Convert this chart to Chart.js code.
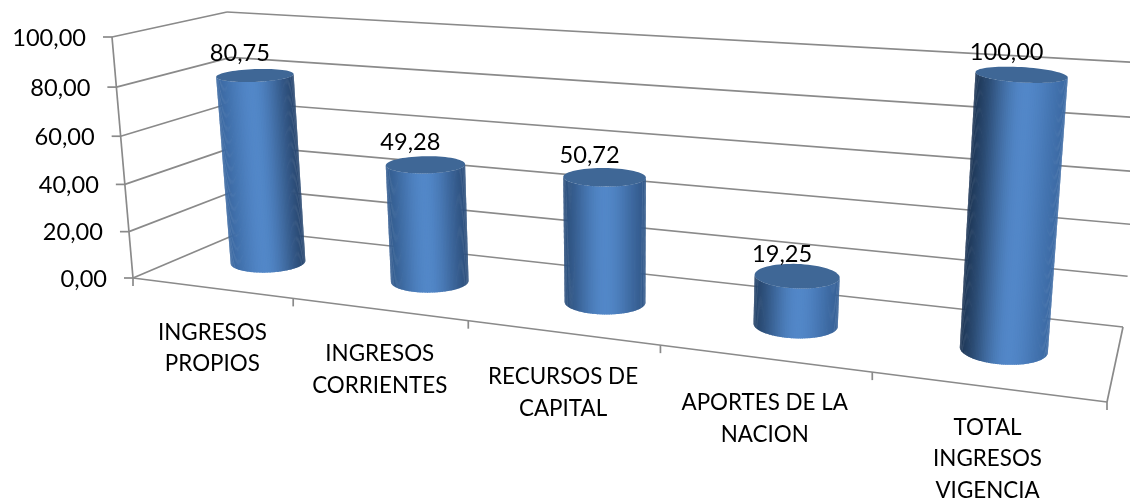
<!DOCTYPE html>
<html><head><meta charset="utf-8">
<style>html,body{margin:0;padding:0;background:#fff}canvas{display:block}</style>
<script src="https://cdn.jsdelivr.net/npm/chart.js@4"></script></head>
<body><canvas id="c" width="1130" height="503"></canvas>
<script>
const categories = [["INGRESOS","PROPIOS"],["INGRESOS","CORRIENTES"],["RECURSOS DE","CAPITAL"],["APORTES DE LA","NACION"],["TOTAL","INGRESOS","VIGENCIA"]];
const values = [80.75,49.28,50.72,19.25,100];
const yMin = 0, yMax = 100, yStep = 20;

const FONT = '22.4px Lato, "Open Sans", sans-serif';
const NUMFONT = '23.6px Lato, "Open Sans", sans-serif';
const GRID = '#8a8a8a';
const persp = (t,w)=> t/(t+w*(1-t));
const lerp = (a,b,t)=>a+(b-a)*t;
// projection of the (across, depth, height) box on the screen
function warp(u,d,v){
  const f=persp(u,1.27), g=persp(u,1.2), m=persp(u,1.25), h=persp(v,1.05);
  const fx=133+974*f, fy=278+124*f, bx=246+877*g, by=230+97*g;
  const ox=lerp(lerp(-21,22,m),lerp(-19,24,m),d), oy=lerp(lerp(-241,-300,m),lerp(-218,-264,m),d);
  return [lerp(fx,bx,d)+ox*h, lerp(fy,by,d)+oy*h];
}
const hex=c=>[parseInt(c.slice(1,3),16),parseInt(c.slice(3,5),16),parseInt(c.slice(5,7),16)];
const mix=(a,b,t)=>a.map((x,i)=>x+(b[i]-x)*t);
const css=a=>`rgb(${a.map(Math.round).join(',')})`;
const PEAK=hex('#5287c8');
function shade(t,u){
  const L=mix(hex('#3f6fab'),hex('#1c3350'),u), R=mix(hex('#27446b'),hex('#3f6fab'),u);
  const c=lerp(.45,.55,u);
  const a=t<c?t/c:(1-t)/(1-c);
  const s=Math.pow(a*a*(3-2*a),.8);
  return css(mix(t<c?L:R,PEAK,s));
}
function line(ctx,a,b){ctx.beginPath();ctx.moveTo(a[0],a[1]);ctx.lineTo(b[0],b[1]);ctx.stroke();}

const box3d={id:'box3d',
 beforeDatasetsDraw(ch){
  const ctx=ch.ctx, ys=ch.scales.y, xs=ch.scales.x;
  ctx.save();ctx.strokeStyle=GRID;ctx.lineWidth=1.7;ctx.lineCap='butt';
  ys.ticks.forEach(t=>{
    const v=(t.value-yMin)/(yMax-yMin);
    const a=warp(0,0,v),b=warp(0,1,v),c=warp(1,1,v);
    line(ctx,a,b);line(ctx,b,c);
    line(ctx,[a[0]-9,a[1]],a);
    ctx.fillStyle='#000';ctx.font=NUMFONT;ctx.textAlign='right';ctx.textBaseline='middle';
    ctx.fillText(t.label,a[0]-26,a[1]+1);
  });
  line(ctx,warp(0,0,0),warp(0,0,1));
  line(ctx,warp(0,0,0),warp(1,0,0));
  line(ctx,warp(1,0,0),warp(1,1,0));
  const n=categories.length;
  for(let i=0;i<=n;i++){const p=warp(i/n,0,0);line(ctx,p,[p[0],p[1]+8]);}
  ctx.fillStyle='#000';ctx.font=FONT;ctx.textAlign='center';ctx.textBaseline='middle';
  categories.forEach((lab,i)=>{
    const u=(xs.getPixelForValue(i)-ch.chartArea.left)/ch.chartArea.width;
    const p=warp(u,0,0);
    lab.forEach((s,k)=>ctx.fillText(s,p[0]+1,p[1]+(lab.length>2?41:44.5)+k*31.5));
  });
  ctx.restore();
 },
 afterDatasetsDraw(ch){
  const ctx=ch.ctx, A=ch.chartArea, meta=ch.getDatasetMeta(0);
  const D=.52, K=.21, N=72;
  ctx.save();
  meta.data.forEach((el,i)=>{
    const u=(el.x-A.left)/A.width, v=(A.bottom-el.y)/A.height;
    const H=lerp(.049,.0395,u), tilt=lerp(-.05,.07,u);
    const pt=(th,vv)=>{
      const c=warp(u,D,vv);
      const rx=(warp(u+H,D,vv)[0]-warp(u-H,D,vv)[0])/2;
      const ry=(warp(u,D-K,vv)[1]-warp(u,D+K,vv)[1])/2;
      const x=rx*Math.cos(th);
      return [c[0]+x, c[1]+tilt*x+ry*Math.sin(th)];
    };
    for(let j=0;j<N;j++){
      const t0=Math.PI*j/N, t1=Math.PI*Math.min(j+1.6,N)/N;
      const a=pt(t0,0),b=pt(t1,0),c=pt(t1,v),d=pt(t0,v);
      ctx.fillStyle=shade((Math.cos(Math.PI*(j+.5)/N)+1)/2,u);
      ctx.beginPath();ctx.moveTo(a[0],a[1]);ctx.lineTo(b[0],b[1]);ctx.lineTo(c[0],c[1]);ctx.lineTo(d[0],d[1]);ctx.closePath();ctx.fill();
    }
    ctx.fillStyle='#3f6796';ctx.beginPath();
    for(let j=0;j<72;j++){const p=pt(Math.PI*2*j/72,v);j?ctx.lineTo(p[0],p[1]):ctx.moveTo(p[0],p[1]);}
    ctx.closePath();ctx.fill();
    const top=warp(u,D,v);
    ctx.fillStyle='#000';ctx.font=NUMFONT;ctx.textAlign='center';ctx.textBaseline='middle';
    ctx.fillText(values[i].toFixed(2).replace('.',','),top[0]-15,top[1]-22);
  });
  ctx.restore();
 }};

new Chart(document.getElementById('c'),{
  type:'bar',
  data:{labels:categories,datasets:[{data:values,backgroundColor:'rgba(0,0,0,0)',borderWidth:0}]},
  options:{responsive:false,animation:false,
    layout:{padding:{left:133,right:23,top:37,bottom:225}},
    plugins:{legend:{display:false},tooltip:{enabled:false}},
    scales:{
      x:{grid:{display:false},border:{display:false},ticks:{display:false}},
      y:{min:yMin,max:yMax,grid:{display:false},border:{display:false},
         ticks:{display:false,stepSize:yStep,callback:v=>v.toFixed(2).replace('.',',')}}
    }},
  plugins:[box3d]
});
</script></body></html>
